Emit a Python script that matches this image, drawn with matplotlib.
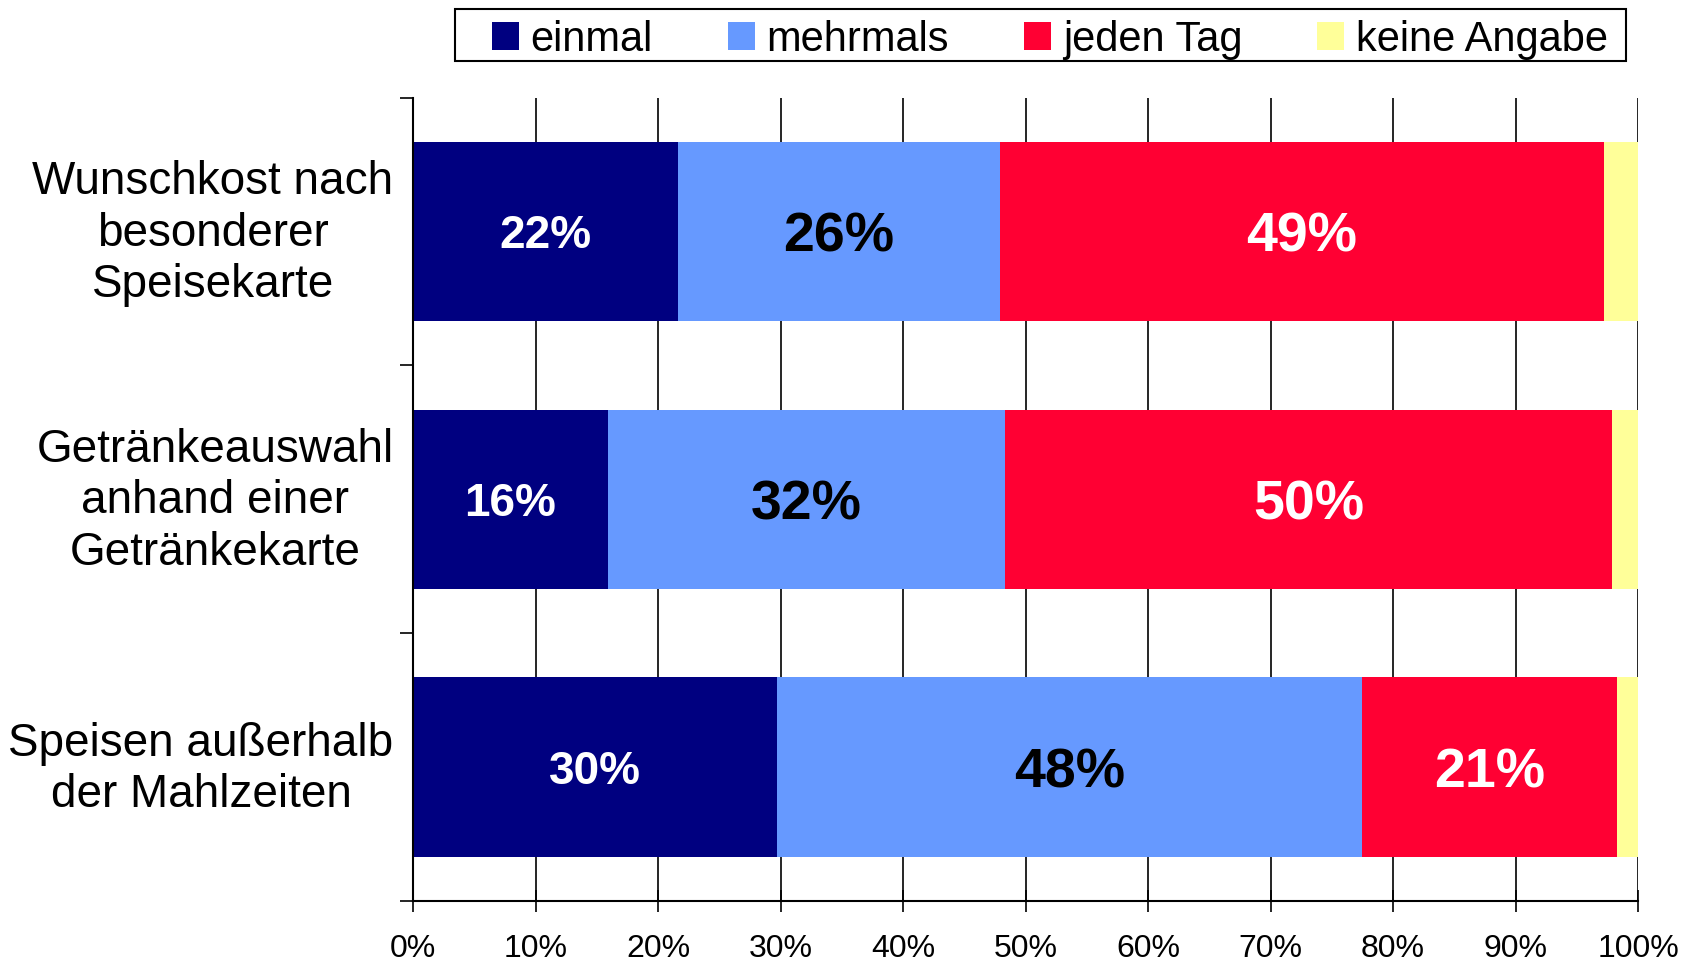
import matplotlib
matplotlib.use("Agg")
import matplotlib.pyplot as plt
import matplotlib.transforms as mtransforms
from matplotlib.patches import Rectangle
import numpy as np

plt.rcParams['font.family'] = ['Liberation Sans', 'DejaVu Sans']

categories = ["Wunschkost nach\nbesonderer\nSpeisekarte",
              "Getränkeauswahl\nanhand einer\nGetränkekarte",
              "Speisen außerhalb\nder Mahlzeiten"]
series_names = ["einmal", "mehrmals", "jeden Tag", "keine Angabe"]
einmal = [21.6, 15.9, 29.7]
mehrmals = [26.3, 32.4, 47.8]
jeden_tag = [49.3, 49.6, 20.8]
keine_angabe = [2.8, 2.1, 1.7]
xticks = [0, 10, 20, 30, 40, 50, 60, 70, 80, 90, 100]
xtick_labels = [f"{t}%" for t in xticks]

colors = ["#000080", "#6699FF", "#FF0033", "#FFFF99"]
label_colors = ["white", "black", "white", None]
label_sizes = [33, 40, 40, None]

fig = plt.figure(figsize=(17, 9.61), dpi=100)
ax_top, ax_bot = 97.5, 901
ax = fig.add_axes([413/1700, 1-ax_bot/961, (1638-413)/1700, (ax_bot-ax_top)/961])

y = np.arange(len(categories))
left = np.zeros(len(categories))
data = [einmal, mehrmals, jeden_tag, keine_angabe]
handles = []
for i, (name, vals) in enumerate(zip(series_names, data)):
    vals = np.array(vals)
    bars = ax.barh(y, vals, left=left, height=0.67, color=colors[i],
                   edgecolor='none', label=name, zorder=2)
    handles.append(bars)
    if label_colors[i] is not None:
        for yy, l, v in zip(y, left, vals):
            ax.text(l + v/2, yy, f"{round(v)}%", ha='center', va='center_baseline',
                    color=label_colors[i], fontsize=label_sizes[i],
                    fontweight='bold', zorder=3)
    left = left + vals

ax.set_xlim(0, 100)
ax.set_ylim(2.5, -0.5)
ax.set_xticks(xticks)
ax.set_xticklabels(xtick_labels, fontsize=23)
ax.set_yticks(y)
ax.set_yticklabels(categories, fontsize=33, linespacing=1.22)
ax.set_yticks([-0.5, 0.5, 1.5, 2.5], minor=True)
ax.tick_params(axis='y', which='major', length=0, pad=14)
ax.tick_params(axis='y', which='minor', length=9.5, width=1.2, direction='out', color='black')
ax.tick_params(axis='x', which='major', length=16, width=1.2, direction='inout', pad=16, color='black')
shift = mtransforms.ScaledTranslation(0, 4.7/72, fig.dpi_scale_trans)
for lbl in ax.get_yticklabels():
    lbl.set_multialignment('center')
    lbl.set_transform(lbl.get_transform() + shift)

ax.xaxis.grid(True, color='black', linewidth=1.2, zorder=1)
ax.set_axisbelow(True)
for s in ['top', 'right']:
    ax.spines[s].set_visible(False)
for s in ['left', 'bottom']:
    ax.spines[s].set_color('black')
    ax.spines[s].set_linewidth(1.5)

leg = fig.legend(handles=handles, labels=series_names, loc='center',
                 bbox_to_anchor=(1050/1700, 1-40/961), ncol=4, fontsize=30,
                 frameon=False,
                 handlelength=0.65, handleheight=0.65, handletextpad=0.28,
                 columnspacing=1.8, borderpad=0, borderaxespad=0)
fig.add_artist(Rectangle((455/1700, 1-61/961), (1626-455)/1700, 52/961,
                         transform=fig.transFigure, fill=False,
                         edgecolor='black', linewidth=1.5))

fig.savefig("out.png", dpi=100, facecolor='white')
